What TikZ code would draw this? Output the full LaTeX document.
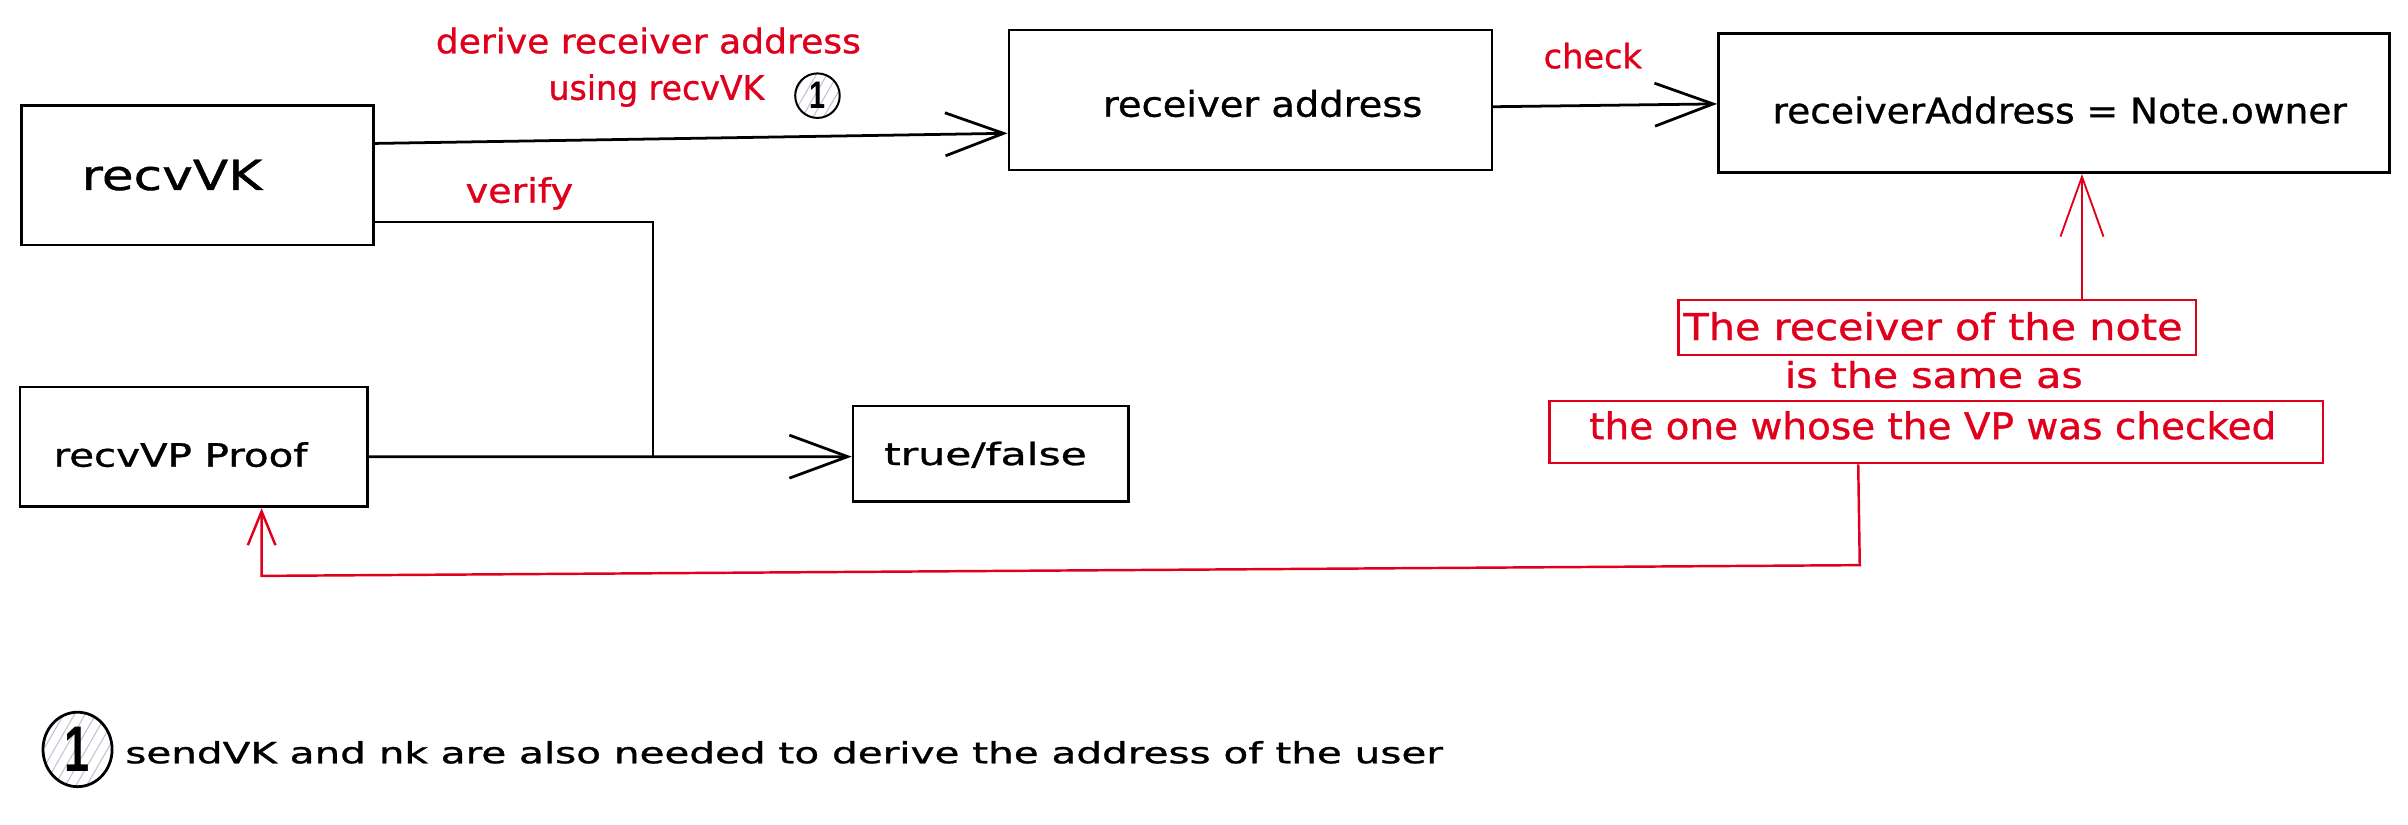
\documentclass[tikz,border=0pt]{standalone}
\usepackage{fontspec}
\setmainfont{DejaVu Sans}[FakeBold=0.9]
\newfontfamily\onefont{Liberation Sans}
\usepackage{graphicx}
\usetikzlibrary{arrows.meta,patterns.meta,shapes.geometric}
\definecolor{exred}{RGB}{224,0,28}
\definecolor{hatch}{RGB}{188,198,210}
\newsavebox\fitbox
\newcommand\fitw[2]{\sbox\fitbox{#2}\pgfmathsetmacro\fitfx{#1/\the\wd\fitbox}\scalebox{\fitfx}[1]{\usebox\fitbox}}
\begin{document}
\begin{tikzpicture}[x=1pt,y=-1pt,
  box/.style={draw=black, line width=1.8pt, rectangle, inner sep=0pt},
  redbox/.style={draw=exred, line width=1.5pt, rectangle, inner sep=0pt},
  txt/.style={inner sep=0pt, anchor=base west},
  redtxt/.style={txt, text=exred},
  blackarr/.style={draw=black, line width=1.8pt, line cap=round, -{Straight Barb[length=38pt,width=28pt]}},
  thinline/.style={draw=black, line width=1.2pt},
  redarr/.style={draw=exred, line width=1.2pt, -{Straight Barb[length=39pt,width=28pt]}},
  redarrsmall/.style={draw=exred, line width=1.6pt, -{Straight Barb[length=22pt,width=18pt]}},
  numcirc/.style={ellipse, draw=black, inner sep=0pt, pattern={Lines[angle=60,distance=6pt,line width=0.7pt]}, pattern color=hatch}
]
\fill[white] (0,0) rectangle (1568,537.2);
\useasboundingbox (0,0) rectangle (1568,537.2);

% boxes
\node[box, minimum width=229pt, minimum height=91pt] (vk) at (128.5,114) {};
\node[box, minimum width=314.5pt, minimum height=91.2pt] (ra) at (814.25,65.1) {};
\node[box, minimum width=437pt, minimum height=90.7pt] (own) at (1337.5,67.05) {};
\node[box, minimum width=226.5pt, minimum height=78pt] (vp) at (126.25,291) {};
\node[box, minimum width=179.2pt, minimum height=62.3pt] (tf) at (645.1,295.55) {};
\node[redbox, minimum width=337pt, minimum height=36pt] (n1) at (1261.5,213.25) {};
\node[redbox, minimum width=503.6pt, minimum height=40.7pt] (n3) at (1260.8,281.35) {};

% box texts
\node[txt, font=\fontsize{27}{30}\selectfont] (vkT) at (53,123.7) {\fitw{117.5}{recvVK}};
\node[txt, font=\fontsize{23}{26}\selectfont] (raT) at (718,76) {\fitw{208}{receiver address}};
\node[txt, font=\fontsize{23}{26}\selectfont] (ownT) at (1154,80.3) {\fitw{374}{receiverAddress = Note.owner}};
\node[txt, font=\fontsize{21}{24}\selectfont] (vpT) at (34.7,303.9) {\fitw{165.3}{recvVP Proof}};
\node[txt, font=\fontsize{20}{24}\selectfont] (tfT) at (575.5,302.8) {\fitw{132}{true/false}};
\node[redtxt, font=\fontsize{24}{28}\selectfont] (n1T) at (1096,221.4) {\fitw{325}{The receiver of the note}};
\node[redtxt, font=\fontsize{23}{28}\selectfont] (n2T) at (1162,252.5) {\fitw{194}{is the same as}};
\node[redtxt, font=\fontsize{24}{28}\selectfont] (n3T) at (1034.7,286) {\fitw{447.3}{the one whose the VP was checked}};

% edge labels
\node[redtxt, font=\fontsize{22}{26}\selectfont] (lderive) at (283.6,34.7) {\fitw{276.8}{derive receiver address}};
\node[redtxt, font=\fontsize{22}{26}\selectfont] (lusing) at (357,65) {\fitw{140.5}{using recvVK}};
\node[redtxt, font=\fontsize{22}{26}\selectfont] (lverify) at (303,132) {\fitw{70}{verify}};
\node[redtxt, font=\fontsize{22}{26}\selectfont] (lcheck) at (1005,44.5) {\fitw{64}{check}};
\node[numcirc, line width=1.3pt, minimum width=29pt, minimum height=29pt] (c1) at (532.3,62.3) {\onefont\bfseries\fontsize{25}{25}\selectfont\scalebox{0.75}[1]{1}};

% footnote
\node[numcirc, line width=1.8pt, minimum width=45pt, minimum height=48.5pt] (c2) at (50.5,488) {\onefont\bfseries\fontsize{42}{42}\selectfont\scalebox{0.7}[1]{1}};
\node[txt, font=\fontsize{19}{22}\selectfont] (foot) at (81.4,497) {\fitw{858}{sendVK and nk are also needed to derive the address of the user}};

% connectors
\coordinate (vj) at (425,297.4);
\coordinate (rb1) at (1211,368);
\coordinate (rb2) at (170.4,375);
\draw[blackarr] ([yshift=20.6pt]vk.east) -- ([yshift=-21.7pt]ra.west);
\draw[thinline] ([yshift=-30.6pt]vk.east) -| (vj);
\draw[blackarr] ([yshift=-6.4pt]vp.east) -- ([yshift=-1.8pt]tf.west);
\draw[blackarr] ([yshift=-4.4pt]ra.east) -- ([yshift=-0.6pt]own.west);
\draw[redarr] ([xshift=94.2pt]n1.north) -- ([xshift=18.2pt]own.south);
\draw[redarrsmall, line join=miter] ([xshift=-50.8pt]n3.south) -- (rb1) -- (rb2) -- ([xshift=44.1pt]vp.south);
\end{tikzpicture}
\end{document}
